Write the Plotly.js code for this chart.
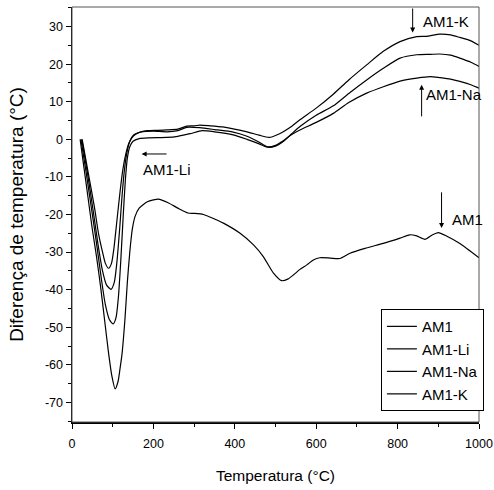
<!DOCTYPE html>
<html>
<head>
<meta charset="utf-8">
<script src="https://cdn.plot.ly/plotly-3.0.1.min.js"></script>
<style>html,body{margin:0;padding:0;background:#fff;}#chart{width:494px;height:490px;}</style>
</head>
<body>
<div id="chart"></div>
<script>
// ---- data ----
const seriesNames = ["AM1", "AM1-Li", "AM1-Na", "AM1-K"];

const am1T = [20,30,40,50,60,70,80,90,98,106,113,118,123,130,136,142,148,155,165,185,200,212,235,260,285,300,323,350,372,413,446,470,495,515,530,544,560,577,593,609,635,658,683,720,765,806,830,847,867,884,900,920,953,1000];
const am1D = [0,-8,-16,-24,-31,-39,-48,-57,-63,-66.4,-64.5,-61,-57,-48,-38,-30,-24,-20.5,-18.3,-16.6,-16.1,-15.9,-16.8,-18.3,-19.6,-19.7,-20,-21.2,-22.3,-25,-28.1,-31.2,-35.6,-37.6,-37.2,-36.1,-34.6,-33.4,-32.1,-31.5,-31.6,-31.7,-30.3,-29,-27.7,-26.3,-25.4,-25.7,-26.6,-25.5,-24.8,-25.7,-27.7,-31.5];

const liT = [22,35,50,62,72,82,92,101,108,114,120,126,131,136,142,150,165,190,233,260,290,320,350,396,430,460,480,500,520,540,560,600,642,680,724,765,806,847,880,904,930,953,980,1000];
const liD = [0,-9,-20,-29,-37,-44,-48,-49.1,-47.5,-42,-32,-20,-11,-5,-2,-0.5,0.2,0.4,0.5,0.8,1.5,2.3,2.0,1.2,0,-1.2,-2.1,-1.8,-0.5,1.5,3.4,6.4,8.9,12.2,15.8,18.9,21.6,22.5,22.6,22.7,22.4,21.6,20.5,19.4];

const naT = [24,38,52,64,75,85,96,104,110,117,123,129,135,142,152,170,200,233,260,282,314,350,396,430,460,480,500,520,540,560,600,642,680,724,765,806,847,880,904,930,953,980,1000];
const naD = [0,-9,-19,-28,-35,-38.8,-39.9,-38,-33,-24,-15,-8,-3.5,-0.5,1.2,2,2.2,2.0,2.3,3.2,3.1,2.6,1.9,0.8,-0.8,-2.0,-1.6,-0.3,1.3,2.5,4.5,6.9,9.8,12.3,14,15.5,16.3,16.7,16.4,16,15.4,14.5,13.6];

const kT = [25,40,55,65,75,82,90,97,103,110,118,125,132,140,150,165,185,210,233,260,282,300,314,340,370,396,430,460,484,510,540,560,600,642,680,724,765,806,847,870,904,930,953,980,1000];
const kD = [0,-9,-18,-25,-30,-33,-34.3,-33,-29,-22,-14,-8,-4,-1,0.8,1.8,2.3,2.4,2.5,2.7,3.5,3.6,3.8,3.6,3.3,2.8,2.0,1.1,0.5,1.5,3.5,5.2,8.3,12.0,15.8,19.8,23.4,26,27.3,27.4,28,27.8,27.1,26.2,25];

const xTicks = [0,200,400,600,800,1000];
const yTicks = [30,20,10,0,-10,-20,-30,-40,-50,-60,-70];

// ---- chart ----
const FONT = "Liberation Sans, Arial, sans-serif";
const line = {color: "#000", width: 1.2, shape: "spline", smoothing: 0.6};
const traces = [
  {x: am1T, y: am1D, name: seriesNames[0]},
  {x: liT, y: liD, name: seriesNames[1]},
  {x: naT, y: naD, name: seriesNames[2]},
  {x: kT, y: kD, name: seriesNames[3]}
].map(t => Object.assign(t, {type: "scatter", mode: "lines", line: line}));

function arrow(x, y, ax, ay) {
  return {x: x, y: y, ax: ax, ay: ay, xref: "x", yref: "y", axref: "x", ayref: "y",
    text: "", showarrow: true, arrowhead: 2, arrowsize: 1, arrowwidth: 1, arrowcolor: "#000"};
}
function label(x, y, text) {
  return {x: x, y: y, xref: "x", yref: "y", text: text, showarrow: false,
    xanchor: "left", yanchor: "middle", font: {family: FONT, size: 15, color: "#000"}};
}

const layout = {
  width: 494, height: 490,
  margin: {l: 72, r: 15, t: 7, b: 68},
  paper_bgcolor: "#fff", plot_bgcolor: "#fff",
  showlegend: true,
  legend: {x: 0.759, y: 0.272, xanchor: "left", yanchor: "top",
    bordercolor: "#000", borderwidth: 1, bgcolor: "#fff",
    font: {family: FONT, size: 15, color: "#000"}, tracegroupgap: 0},
  xaxis: {
    range: [0, 1000], tickvals: xTicks, ticktext: xTicks.map(String),
    ticks: "outside", ticklen: 5, tickcolor: "#000", tickwidth: 1, ticklabelstandoff: 4,
    minor: {dtick: 100, tick0: 0, ticks: "outside", ticklen: 3, tickcolor: "#000", showgrid: false},
    showgrid: false, zeroline: false, showline: true, linecolor: "#000", linewidth: 1.5,
    tickfont: {family: FONT, size: 12.5, color: "#000"},
    title: {text: "Temperatura (°C)", font: {family: FONT, size: 15.5, color: "#000"}, standoff: 20}
  },
  yaxis: {
    range: [-75.2, 35.2], tickvals: yTicks, ticktext: yTicks.map(String),
    ticks: "outside", ticklen: 5, tickcolor: "#000", tickwidth: 1,
    minor: {dtick: 5, tick0: 0, ticks: "outside", ticklen: 3, tickcolor: "#000", showgrid: false},
    showgrid: false, zeroline: false, showline: true, linecolor: "#000", linewidth: 1.5,
    tickfont: {family: FONT, size: 12.5, color: "#000"},
    title: {text: "Diferença de temperatura (°C)", font: {family: FONT, size: 19, color: "#000"}, standoff: 16}
  },
  shapes: [
    {type: "rect", xref: "paper", yref: "paper", x0: 0, x1: 1, y0: 0, y1: 1,
      line: {color: "#555", width: 1}, fillcolor: "rgba(0,0,0,0)", layer: "above"}
  ],
  annotations: [
    arrow(837, 28.4, 837, 35.2), label(858, 31.4, "AM1-K"),
    arrow(859, 14.5, 859, 5.7), label(864, 11.8, "AM1-Na"),
    arrow(908, -23.6, 908, -13.7), label(928, -21.3, "AM1"),
    arrow(171, -3.9, 236, -3.9), label(170, -7.9, "AM1-Li")
  ]
};

Plotly.newPlot("chart", traces, layout, {staticPlot: true, displayModeBar: false});
</script>
</body>
</html>
